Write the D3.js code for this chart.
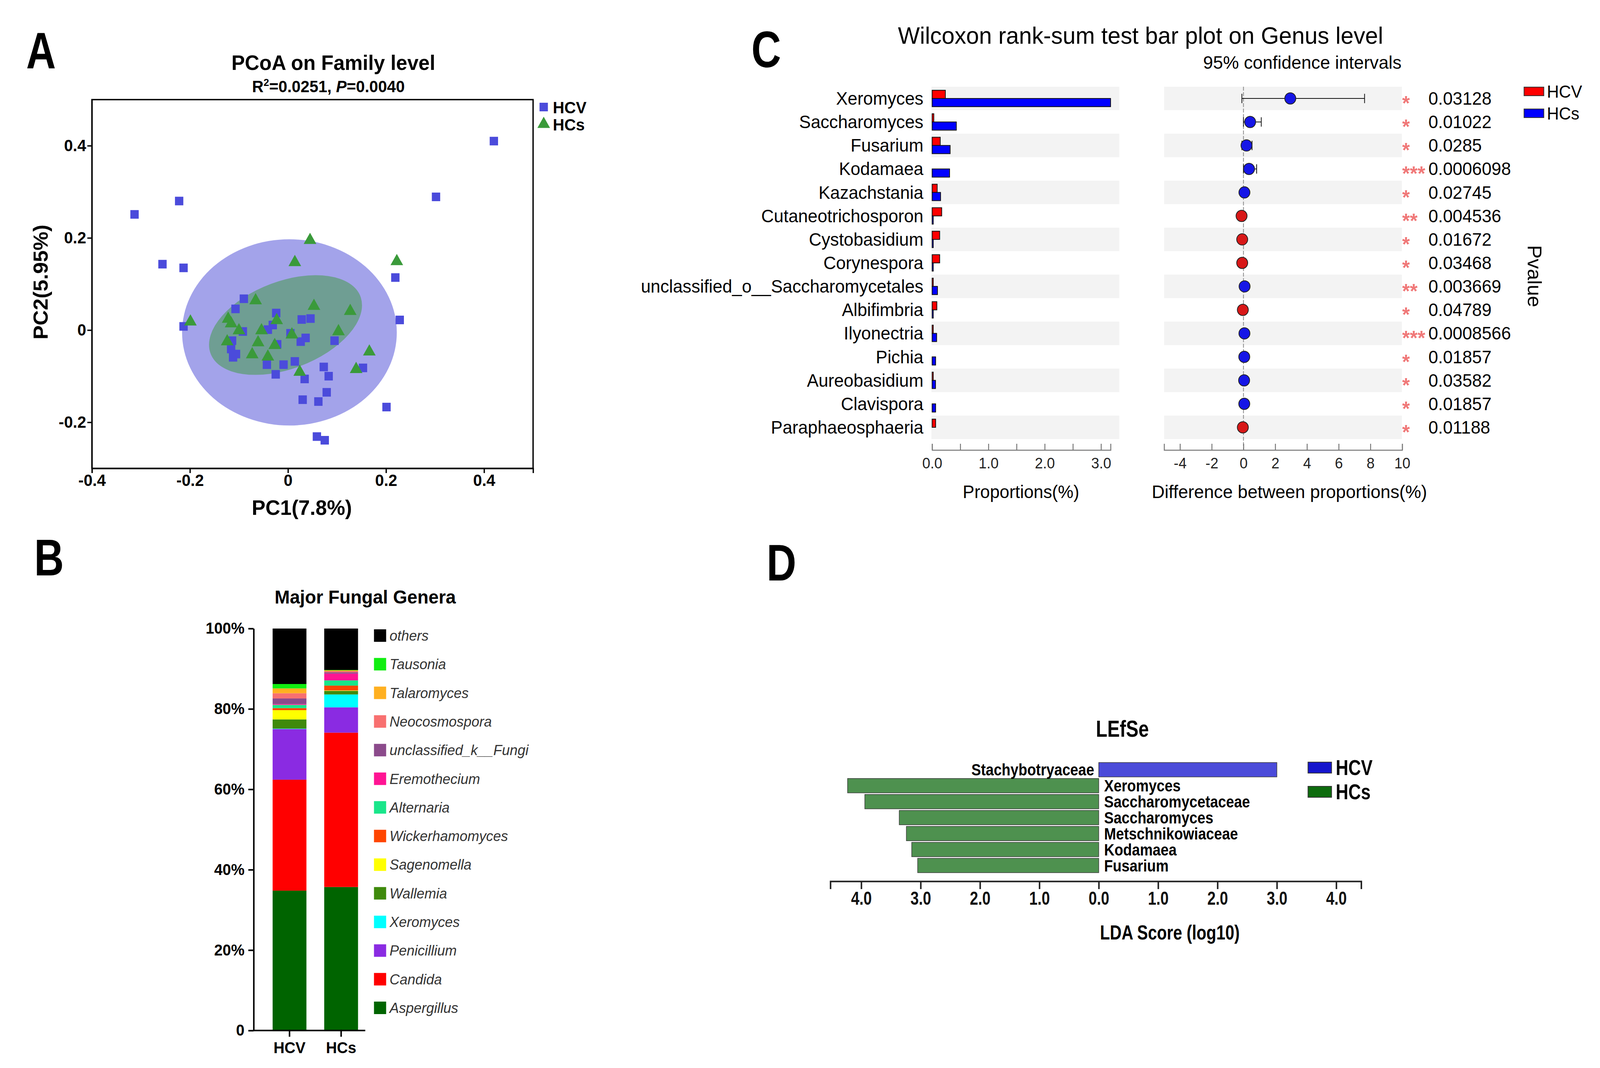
<!DOCTYPE html>
<html>
<head>
<meta charset="utf-8">
<script src="https://cdn.jsdelivr.net/npm/d3@7"></script>
<style>
html, body { margin: 0; padding: 0; background: #fff; overflow: hidden; }
svg { display: block; }
</style>
</head>
<body>
<script>
// ---------- A: PCoA on family level ----------
const pcoaHCV = [
    [0.42, 0.41], [0.302, 0.289], [-0.222, 0.280], [-0.313, 0.251], [-0.256, 0.143],
    [-0.213, 0.135], [0.219, 0.114], [0.228, 0.022], [-0.213, 0.008], [-0.090, 0.068],
    [-0.107, 0.046], [-0.024, 0.037], [0.028, 0.023], [0.046, 0.025], [-0.031, 0.011],
    [-0.041, 0.001], [-0.092, -0.003], [-0.114, -0.023], [0.005, -0.007], [0.036, -0.017],
    [0.026, -0.025], [-0.022, -0.031], [0.095, -0.023], [-0.116, -0.041], [-0.106, -0.052],
    [-0.112, -0.059], [0.014, -0.068], [-0.043, -0.075], [-0.009, -0.075], [-0.025, -0.096],
    [0.073, -0.080], [0.083, -0.100], [0.034, -0.106], [0.153, -0.082], [0.079, -0.135],
    [0.030, -0.151], [0.062, -0.155], [0.201, -0.167], [0.059, -0.231], [0.075, -0.239]];
const pcoaHCs = [
    [0.045, 0.195], [0.014, 0.147], [0.222, 0.149], [-0.199, 0.018], [-0.066, 0.064],
    [0.053, 0.052], [0.127, 0.041], [-0.122, 0.024], [-0.116, 0.014], [-0.100, -0.001],
    [-0.054, -0.001], [-0.023, 0.021], [0.008, -0.010], [0.103, -0.003], [-0.124, -0.025],
    [-0.061, -0.027], [-0.027, -0.033], [-0.073, -0.053], [-0.041, -0.058], [0.166, -0.047],
    [0.024, -0.091], [0.139, -0.085]];
// confidence ellipses: centre, semi axes (data units), screen rotation (deg)
const ellipseHCV = [0.003, -0.005, 0.219, 0.202, 0];
const ellipseHCs = [-0.005, 0.011, 0.163, 0.095, -20];

// ---------- B: major fungal genera (stacked %) ----------
const groupsB = ["HCV", "HCs"];
const generaB = ["Aspergillus", "Candida", "Penicillium", "Xeromyces", "Wallemia", "Sagenomella",
    "Wickerhamomyces", "Alternaria", "Eremothecium", "unclassified_k__Fungi", "Neocosmospora",
    "Talaromyces", "Tausonia", "others"];
const abundHCV = [34.8, 27.6, 12.6, 0.1, 2.3, 2.3, 0.5, 0.8, 0.2, 1.4, 1.3, 1.2, 1.1, 13.8];
const abundHCs = [35.7, 38.4, 6.3, 3.2, 0.9, 0.1, 1.2, 1.3, 1.7, 0.3, 0.3, 0.2, 0.1, 10.3];
const generaColors = ["#006400", "#ff0000", "#8a2be2", "#00ffff", "#3f8a0c", "#ffff00",
    "#ff4500", "#19e68a", "#ff1493", "#8b4a8b", "#f87070", "#ffb020", "#11ee11", "#000000"];
const ticksB = [0, 20, 40, 60, 80, 100];

// ---------- C: Wilcoxon rank-sum test ----------
const wilcoxGenera = ["Xeromyces", "Saccharomyces", "Fusarium", "Kodamaea", "Kazachstania",
    "Cutaneotrichosporon", "Cystobasidium", "Corynespora", "unclassified_o__Saccharomycetales",
    "Albifimbria", "Ilyonectria", "Pichia", "Aureobasidium", "Clavispora", "Paraphaeosphaeria"];
const propHCV = [0.235, 0.03, 0.144, 0, 0.09, 0.17, 0.134, 0.134, 0.02, 0.084, 0.02, 0, 0.02, 0, 0.062];
const propHCs = [3.17, 0.43, 0.32, 0.31, 0.15, 0.02, 0.02, 0.02, 0.095, 0.02, 0.08, 0.062, 0.06, 0.062, 0];
const diffMean = [2.95, 0.42, 0.19, 0.35, 0.06, -0.12, -0.08, -0.08, 0.07, -0.04, 0.06, 0.05, 0.04, 0.05, -0.04];
const diffLow = [-0.1, 0.0, -0.1, 0.0, -0.05, -0.22, -0.16, -0.16, 0.01, -0.09, 0.01, 0.01, 0.0, 0.01, -0.08];
const diffHigh = [7.63, 1.12, 0.54, 0.83, 0.17, -0.02, -0.01, -0.01, 0.14, 0.0, 0.11, 0.10, 0.09, 0.10, 0.0];
const pValues = ["0.03128", "0.01022", "0.0285", "0.0006098", "0.02745", "0.004536", "0.01672",
    "0.03468", "0.003669", "0.04789", "0.0008566", "0.01857", "0.03582", "0.01857", "0.01188"];

// ---------- D: LEfSe ----------
const lefseTaxa = ["Stachybotryaceae", "Xeromyces", "Saccharomycetaceae", "Saccharomyces",
    "Metschnikowiaceae", "Kodamaea", "Fusarium"];
const ldaScore = [3.0, 4.23, 3.94, 3.36, 3.24, 3.15, 3.05];
const lefseGroup = ["HCV", "HCs", "HCs", "HCs", "HCs", "HCs", "HCs"];


const W = 4214, H = 2734;
const SANS = "'Liberation Sans', Arial, sans-serif";
const NARROW = 0.82;   // horizontal squeeze used for the condensed lettering

// the layout is drawn in reference pixels and stretched onto whatever viewport we get
const svg = d3.select("body").append("svg")
    .attr("width", window.innerWidth || W)
    .attr("height", window.innerHeight || H)
    .attr("viewBox", "0 0 " + W + " " + H)
    .attr("preserveAspectRatio", "none");
svg.append("rect").attr("width", W).attr("height", H).attr("fill", "#fff");

function txt(g, x, y, s, size, opts) {
    opts = opts || {};
    const t = g.append("text")
        .attr("font-family", SANS)
        .attr("font-size", size)
        .attr("font-weight", opts.weight || "normal")
        .attr("font-style", opts.style || "normal")
        .attr("text-anchor", opts.anchor || "start")
        .attr("fill", opts.fill || "#000")
        .text(s);
    if (opts.sx)
        t.attr("transform", "translate(" + x + "," + y + ") scale(" + opts.sx + ",1)");
    else
        t.attr("x", x).attr("y", y);
    return t; }

function styleAxis(sel, stroke, width, size, weight, fill) {
    sel.selectAll("path, line").attr("stroke", stroke).attr("stroke-width", width);
    sel.selectAll("text")
        .attr("font-family", SANS)
        .attr("font-size", size)
        .attr("font-weight", weight)
        .attr("fill", fill); }

function panelLetters() {
    [["A", 69, 175], ["B", 90, 1473], ["C", 1979, 172], ["D", 2019, 1486]].forEach(function(d) {
        txt(svg, d[1], d[2], d[0], 132, { weight: "bold", sx: NARROW }); }); }


function drawPcoa() {
    const g = svg.append("g");
    const x = d3.scaleLinear().domain([-0.4, 0.5]).range([242, 1404]);
    const y = d3.scaleLinear().domain([-0.3, 0.5]).range([1199, 255]);

    [[ellipseHCV, "#a3a3ea"], [ellipseHCs, "#6f9e93"]].forEach(function(e) {
        const p = e[0];
        const cx = x(p[0]), cy = y(p[1]);
        g.append("ellipse")
            .attr("cx", cx).attr("cy", cy)
            .attr("rx", x(p[0] + p[2]) - cx)
            .attr("ry", cy - y(p[1] + p[3]))
            .attr("transform", "rotate(" + p[4] + "," + cx + "," + cy + ")")
            .attr("fill", e[1]); });

    const sq = 22;
    g.selectAll("rect.hcv")
        .data(pcoaHCV)
        .enter().append("rect")
            .attr("class", "hcv")
            .attr("x", d => x(d[0]) - sq / 2)
            .attr("y", d => y(d[1]) - sq / 2)
            .attr("width", sq).attr("height", sq)
            .attr("fill", "#4b4bdb");

    const tri = d3.symbol(d3.symbolTriangle, 480);
    g.selectAll("path.hcs")
        .data(pcoaHCs)
        .enter().append("path")
            .attr("class", "hcs")
            .attr("d", tri)
            .attr("transform", d => "translate(" + x(d[0]) + "," + y(d[1]) + ")")
            .attr("fill", "#3a9a3a");

    g.append("rect")
        .attr("x", 242).attr("y", 255)
        .attr("width", 1404 - 242).attr("height", 1199 - 255)
        .attr("fill", "none").attr("stroke", "#000").attr("stroke-width", 3.5);

    const fmt = d => d === 0 ? "0" : d.toFixed(1);
    const ax = g.append("g").attr("transform", "translate(0,1199)")
        .call(d3.axisBottom(x).tickValues([-0.4, -0.2, 0, 0.2, 0.4]).tickSize(12).tickSizeOuter(12).tickFormat(fmt));
    styleAxis(ax, "#000", 3.5, 42, "bold", "#000");
    const ay = g.append("g").attr("transform", "translate(242,0)")
        .call(d3.axisLeft(y).tickValues([-0.2, 0, 0.2, 0.4]).tickSize(12).tickSizeOuter(0).tickFormat(fmt));
    styleAxis(ay, "#000", 3.5, 42, "bold", "#000");

    txt(g, 878, 179, "PCoA on Family level", 53, { weight: "bold", anchor: "middle" });
    const sub = txt(g, 865, 236, "", 42, { weight: "bold", anchor: "middle" });
    sub.append("tspan").text("R");
    sub.append("tspan").attr("font-size", 26).attr("dy", -16).text("2");
    sub.append("tspan").attr("dy", 16).text("=0.0251, ");
    sub.append("tspan").attr("font-style", "italic").text("P");
    sub.append("tspan").text("=0.0040");

    txt(g, 795, 1318, "PC1(7.8%)", 54, { weight: "bold", anchor: "middle" });
    txt(g, 0, 0, "PC2(5.95%)", 54, { weight: "bold", anchor: "middle" })
        .attr("transform", "translate(126,722) rotate(-90)");

    // legend
    g.append("rect").attr("x", 1421).attr("y", 263).attr("width", sq).attr("height", sq).attr("fill", "#4b4bdb");
    g.append("path").attr("d", tri).attr("transform", "translate(1432,318)").attr("fill", "#3a9a3a");
    txt(g, 1456, 290, "HCV", 42, { weight: "bold" });
    txt(g, 1456, 334, "HCs", 42, { weight: "bold" }); }


function drawGenera() {
    const g = svg.append("g");
    const y = d3.scaleLinear().domain([0, 100]).range([2638, 1609]);
    const x = d3.scaleBand().domain(groupsB).range([668, 993]).paddingInner(0.345).paddingOuter(0.368);

    const rows = groupsB.map(function(grp, i) {
        const vals = i === 0 ? abundHCV : abundHCs;
        const r = { group: grp };
        generaB.forEach((k, j) => { r[k] = vals[j]; });
        return r; });
    const series = d3.stack().keys(generaB)(rows);

    g.selectAll("g.layer")
        .data(series)
        .enter().append("g")
            .attr("class", "layer")
            .attr("fill", (d, i) => generaColors[i])
        .selectAll("rect")
        .data(d => d)
        .enter().append("rect")
            .attr("x", d => x(d.data.group))
            .attr("y", d => y(d[1]))
            .attr("width", x.bandwidth())
            .attr("height", d => y(d[0]) - y(d[1]));

    const ay = g.append("g").attr("transform", "translate(668,0)")
        .call(d3.axisLeft(y).tickValues(ticksB).tickSize(14).tickSizeOuter(0).tickPadding(10)
            .tickFormat(d => d === 0 ? "0" : d + "%"));
    styleAxis(ay, "#000", 4, 40, "bold", "#000");

    const ax = g.append("g").attr("transform", "translate(0,2638)")
        .call(d3.axisBottom(x).tickSize(16).tickSizeOuter(0).tickPadding(14));
    ax.select("path.domain").attr("d", "M668,0H962");
    styleAxis(ax, "#000", 4, 40, "bold", "#000");

    txt(g, 962, 1545, "Major Fungal Genera", 48, { weight: "bold", anchor: "middle" });

    const ly = d3.scalePoint().domain(generaB.slice().reverse()).range([1627, 2580]);
    generaB.forEach(function(name, i) {
        g.append("rect")
            .attr("x", 985).attr("y", ly(name) - 16)
            .attr("width", 32).attr("height", 32)
            .attr("fill", generaColors[i]);
        txt(g, 1026, ly(name) + 13, name, 37, { style: "italic", fill: "#333" }); }); }


function drawWilcoxon() {
    const g = svg.append("g");
    const y = d3.scaleBand().domain(wilcoxGenera).range([222, 1124]);
    const bw = y.bandwidth();
    const xp = d3.scaleLinear().domain([0, 3.17]).range([2455, 2925]);
    const xd = d3.scaleLinear().domain([-5, 10]).range([3066, 3693]);

    wilcoxGenera.forEach(function(name, i) {
        if (i % 2 === 0) {
            g.append("rect").attr("x", 2453).attr("y", y(name)).attr("width", 2948 - 2453).attr("height", bw).attr("fill", "#f3f3f3");
            g.append("rect").attr("x", 3066).attr("y", y(name)).attr("width", 3692 - 3066).attr("height", bw).attr("fill", "#f3f3f3"); } });

    const mid = name => y(name) + bw / 2;
    const barH = 21;
    [[propHCV, "#ff0000", -barH], [propHCs, "#0000ff", 0]].forEach(function(s) {
        g.selectAll(null)
            .data(wilcoxGenera.map((n, i) => [n, s[0][i]]).filter(d => d[1] > 0))
            .enter().append("rect")
                .attr("x", xp(0))
                .attr("y", d => mid(d[0]) + s[2])
                .attr("width", d => xp(d[1]) - xp(0))
                .attr("height", barH)
                .attr("fill", s[1])
                .attr("stroke", "#111")
                .attr("stroke-width", 2); });

    wilcoxGenera.forEach(function(name) {
        txt(g, 2432, mid(name) + 16, name, 46, { anchor: "end" }); });

    const axp = g.append("g").attr("transform", "translate(0,1152)")
        .call(d3.axisBottom(xp).tickValues(d3.range(0, 3.01, 0.5)).tickSize(-16).tickSizeOuter(-16).tickPadding(20)
            .tickFormat(d => Number.isInteger(d) ? d.toFixed(1) : ""));
    styleAxis(axp, "#777", 2.5, 38, "normal", "#222");
    txt(g, 2689, 1275, "Proportions(%)", 46, { anchor: "middle" });

    // zero line
    g.append("line")
        .attr("x1", xd(0)).attr("x2", xd(0))
        .attr("y1", 222).attr("y2", 1150)
        .attr("stroke", "#888").attr("stroke-width", 2).attr("stroke-dasharray", "10,4");

    wilcoxGenera.forEach(function(name, i) {
        const cy = mid(name);
        g.append("line").attr("x1", xd(diffLow[i])).attr("x2", xd(diffHigh[i])).attr("y1", cy).attr("y2", cy)
            .attr("stroke", "#111").attr("stroke-width", 2);
        [diffLow[i], diffHigh[i]].forEach(function(v) {
            g.append("line").attr("x1", xd(v)).attr("x2", xd(v)).attr("y1", cy - 12).attr("y2", cy + 12)
                .attr("stroke", "#111").attr("stroke-width", 2); });
        g.append("circle")
            .attr("cx", xd(diffMean[i])).attr("cy", cy).attr("r", 14.5)
            .attr("fill", diffMean[i] >= 0 ? "#1616e6" : "#d81818")
            .attr("stroke", "#222").attr("stroke-width", 2);

        const p = +pValues[i];
        const stars = p < 0.001 ? "***" : p < 0.01 ? "**" : "*";
        txt(g, 3693, cy + 30, stars, 52, { fill: "#f07878", weight: "bold" });
        txt(g, 3762, cy + 16, pValues[i], 46); });

    const axd = g.append("g").attr("transform", "translate(0,1152)")
        .call(d3.axisBottom(xd).tickValues(d3.range(-4, 10.1, 2)).tickSize(-16).tickSizeOuter(-16).tickPadding(20)
            .tickFormat(d3.format("d")));
    axd.selectAll("text").text(d => d < 0 ? "-" + Math.abs(d) : d);
    styleAxis(axd, "#777", 2.5, 38, "normal", "#222");
    txt(g, 3396, 1275, "Difference between proportions(%)", 47, { anchor: "middle" });

    txt(g, 3004, 112, "Wilcoxon rank-sum test bar plot on Genus level", 61, { anchor: "middle" });
    txt(g, 3430, 176, "95% confidence intervals", 47, { anchor: "middle" });
    txt(g, 0, 0, "Pvalue", 52, { anchor: "middle" })
        .attr("transform", "translate(4024,707) rotate(90)");

    [["HCV", "#ff0000", 234], ["HCs", "#0000ff", 290]].forEach(function(d) {
        g.append("rect").attr("x", 4014).attr("y", d[2] - 11).attr("width", 52).attr("height", 22)
            .attr("fill", d[1]).attr("stroke", "#333").attr("stroke-width", 2);
        txt(g, 4074, d[2] + 16, d[0], 44); }); }


function drawLefse() {
    const g = svg.append("g");
    const x = d3.scaleLinear().domain([-4.52, 4.42]).range([2187, 3585]);
    const y = d3.scaleBand().domain(lefseTaxa).range([1950, 2236]).paddingInner(0.1).paddingOuter(0.05);
    const val = (d, i) => lefseGroup[i] === "HCV" ? ldaScore[i] : -ldaScore[i];
    const barColor = { HCV: "#4b4bd9", HCs: "#4e914f" };

    g.selectAll("rect.lda")
        .data(lefseTaxa)
        .enter().append("rect")
            .attr("class", "lda")
            .attr("x", (d, i) => x(Math.min(0, val(d, i))))
            .attr("y", d => y(d))
            .attr("width", (d, i) => Math.abs(x(val(d, i)) - x(0)))
            .attr("height", y.bandwidth())
            .attr("fill", (d, i) => barColor[lefseGroup[i]])
            .attr("stroke", "#3a3a3a")
            .attr("stroke-width", 1.5);

    lefseTaxa.forEach(function(name, i) {
        const pos = lefseGroup[i] === "HCV";
        txt(g, pos ? x(0) - 12 : x(0) + 14, y(name) + y.bandwidth() / 2 + 15, name, 42,
            { weight: "bold", anchor: pos ? "end" : "start", sx: 0.9 }); });

    const ax = g.append("g").attr("transform", "translate(0,2256)")
        .call(d3.axisBottom(x).tickValues(d3.range(-4, 4.1, 1)).tickSize(20).tickSizeOuter(20).tickPadding(6)
            .tickFormat(d => Math.abs(d).toFixed(1)));
    styleAxis(ax, "#222", 4, 48, "bold", "#111");
    ax.selectAll("text").attr("transform", "scale(" + NARROW + ",1)");

    txt(g, 2956, 1886, "LEfSe", 60, { weight: "bold", anchor: "middle", sx: NARROW });
    txt(g, 3081, 2405, "LDA Score (log10)", 52, { weight: "bold", anchor: "middle", sx: NARROW });

    [["HCV", "#1515cc", 1965], ["HCs", "#0d6b0d", 2027]].forEach(function(d) {
        g.append("rect").attr("x", 3445).attr("y", d[2] - 14).attr("width", 62).attr("height", 28)
            .attr("fill", d[1]).attr("stroke", "#333").attr("stroke-width", 2);
        txt(g, 3518, d[2] + 19, d[0], 56, { weight: "bold", sx: NARROW }); }); }


panelLetters();
drawPcoa();
drawGenera();
drawWilcoxon();
drawLefse();
</script>
</body>
</html>
